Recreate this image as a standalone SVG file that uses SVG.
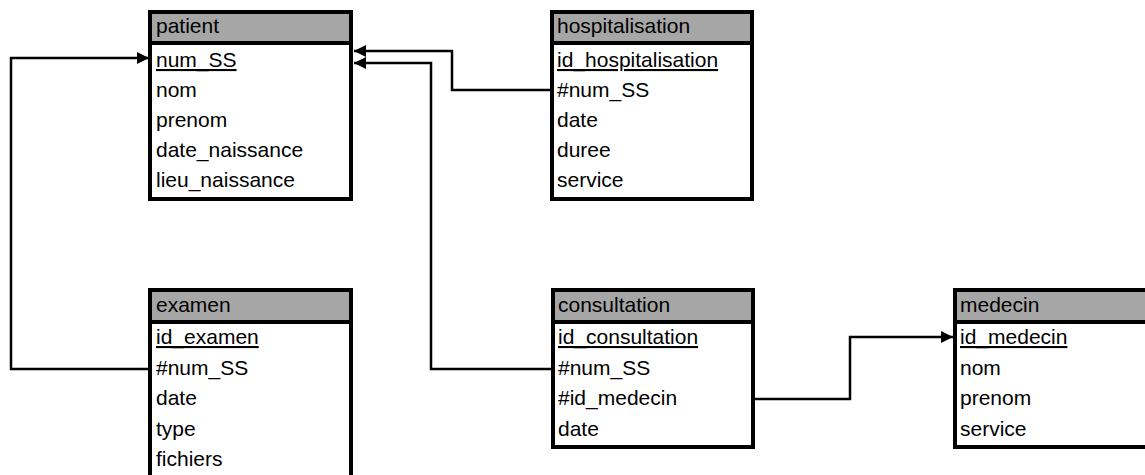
<svg xmlns="http://www.w3.org/2000/svg" width="1145" height="475" viewBox="0 0 1145 475">
<style>
.box{fill:#ffffff;stroke:#000;stroke-width:4}
.hdr{fill:#a6a6a6;stroke:#000;stroke-width:4}
.t{font-family:"Liberation Sans",Arial,sans-serif;font-size:21px;fill:#000}
.pk{text-decoration:underline}
.conn{fill:none;stroke:#000;stroke-width:2.5}
</style>
<defs>
<marker id="arr" markerUnits="userSpaceOnUse" markerWidth="14" markerHeight="12" refX="12" refY="6" orient="auto">
<path d="M0,0 L12,6 L0,12 Z" fill="#000"/>
</marker>
</defs>
<rect width="1145" height="475" fill="#fff"/>
<g id="connectors">
<path class="conn" d="M552,90 H452 V51 H354" marker-end="url(#arr)"/>
<path class="conn" d="M553,369 H431 V63 H354" marker-end="url(#arr)"/>
<path class="conn" d="M150,369 H11 V58 H149" marker-end="url(#arr)"/>
<path class="conn" d="M753,399 H850 V337 H953" marker-end="url(#arr)"/>
</g>
<g id="patient">
<rect class="box" x="150" y="12" width="201" height="187"/>
<rect class="hdr" x="150" y="12" width="201" height="31"/>
<text class="t" x="156" y="33">patient</text>
<text class="t pk" x="156" y="67">num_SS</text>
<text class="t" x="156" y="97">nom</text>
<text class="t" x="156" y="127">prenom</text>
<text class="t" x="156" y="157">date_naissance</text>
<text class="t" x="156" y="187">lieu_naissance</text>
</g>
<g id="hospitalisation">
<rect class="box" x="552" y="12" width="200" height="187"/>
<rect class="hdr" x="552" y="12" width="200" height="31"/>
<text class="t" x="557" y="33">hospitalisation</text>
<text class="t pk" x="557" y="67">id_hospitalisation</text>
<text class="t" x="557" y="97">#num_SS</text>
<text class="t" x="557" y="127">date</text>
<text class="t" x="557" y="157">duree</text>
<text class="t" x="557" y="187">service</text>
</g>
<g id="examen">
<rect class="box" x="150" y="290" width="201" height="200"/>
<rect class="hdr" x="150" y="290" width="201" height="32"/>
<text class="t" x="156" y="312">examen</text>
<text class="t pk" x="156" y="344">id_examen</text>
<text class="t" x="156" y="375">#num_SS</text>
<text class="t" x="156" y="405">date</text>
<text class="t" x="156" y="436">type</text>
<text class="t" x="156" y="466">fichiers</text>
</g>
<g id="consultation">
<rect class="box" x="553" y="290" width="200" height="157"/>
<rect class="hdr" x="553" y="290" width="200" height="32"/>
<text class="t" x="558" y="312">consultation</text>
<text class="t pk" x="558" y="344">id_consultation</text>
<text class="t" x="558" y="375">#num_SS</text>
<text class="t" x="558" y="405">#id_medecin</text>
<text class="t" x="558" y="436">date</text>
</g>
<g id="medecin">
<rect class="box" x="955" y="290" width="200" height="157"/>
<rect class="hdr" x="955" y="290" width="200" height="32"/>
<text class="t" x="960" y="312">medecin</text>
<text class="t pk" x="960" y="344">id_medecin</text>
<text class="t" x="960" y="375">nom</text>
<text class="t" x="960" y="405">prenom</text>
<text class="t" x="960" y="436">service</text>
</g>
</svg>
